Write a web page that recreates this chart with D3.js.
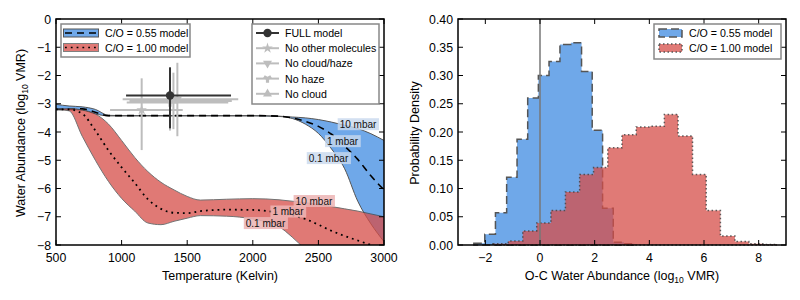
<!DOCTYPE html>
<html>
<head>
<meta charset="utf-8">
<script src="https://cdn.jsdelivr.net/npm/d3@7"></script>
<style>
  body { margin: 0; background: #fff; }
  svg { font-family: "Liberation Sans", Arial, sans-serif; }
</style>
</head>
<body>
<svg id="fig" width="800" height="300"></svg>
<script>
// ---- left panel: water abundance vs temperature ----
var tempK = [500, 600, 700, 800, 900, 1000, 1100, 1200, 1300, 1400, 1500, 1600, 1800, 2000, 2200, 2300, 2400, 2500, 2600, 2700, 2800, 2900, 3000];
var blue10  = [-3.02, -3.08, -3.11, -3.2, -3.41, -3.42, -3.42, -3.42, -3.42, -3.42, -3.42, -3.42, -3.42, -3.42, -3.44, -3.47, -3.5, -3.56, -3.65, -3.76, -3.88, -4.06, -4.3];
var blue1   = [-3.2, -3.2, -3.18, -3.3, -3.42, -3.42, -3.42, -3.42, -3.42, -3.42, -3.42, -3.42, -3.42, -3.42, -3.44, -3.5, -3.62, -3.8, -4.08, -4.5, -4.97, -5.55, -6.05];
var blue01  = [-3.2, -3.21, -3.23, -3.36, -3.43, -3.43, -3.43, -3.43, -3.43, -3.43, -3.43, -3.43, -3.43, -3.43, -3.45, -3.52, -3.72, -4.05, -4.6, -5.3, -6.45, -7.25, -7.88];
var red10   = [-3.2, -3.17, -3.22, -3.36, -3.72, -4.3, -4.9, -5.4, -5.78, -6.05, -6.28, -6.41, -6.38, -6.36, -6.4, -6.45, -6.5, -6.57, -6.64, -6.72, -6.8, -6.9, -7.0];
var red1    = [-3.2, -3.2, -3.35, -3.95, -4.65, -5.25, -5.8, -6.38, -6.72, -6.86, -6.87, -6.8, -6.75, -6.76, -6.86, -6.95, -7.08, -7.28, -7.5, -7.68, -7.84, -8.0, -8.15];
var red01   = [-3.2, -3.25, -4.15, -5.0, -5.75, -6.35, -6.8, -7.22, -7.28, -7.16, -7.05, -6.96, -6.98, -7.08, -7.35, -7.72, -8.15, -8.55, -8.9, -9.2, -9.5, -9.8, -10.1];

var pressLabels = ["10 mbar", "1 mbar", "0.1 mbar"];
var blueLabelT = [2802, 2684, 2577];
var blueLabelV = [-3.72, -4.32, -4.92];
var redLabelT  = [2466, 2268, 2097];
var redLabelV  = [-6.44, -6.81, -7.22];

// retrieved points: name, T, T low, T high, log VMR, low, high
var retNames = ["FULL model", "No other molecules", "No cloud/haze", "No haze", "No cloud"];
var retT     = [1369, 1153, 1425, 1369, 1395];
var retTlo   = [1034, 912, 1008, 1039, 1060];
var retThi   = [1834, 1466, 1889, 1813, 1840];
var retV     = [-2.71, -3.22, -2.84, -2.96, -2.9];
var retVlo   = [-3.87, -4.64, -4.15, -3.95, -3.9];
var retVhi   = [-1.71, -2.1, -1.55, -1.95, -1.9];

var xTicksL = [500, 1000, 1500, 2000, 2500, 3000];
var yTicksL = [0, -1, -2, -3, -4, -5, -6, -7, -8];

// ---- right panel: histograms ----
var blueEdges = [-2.42, -2.02, -1.63, -1.22, -0.84, -0.45, -0.06, 0.33, 0.73, 1.13, 1.52, 1.91, 2.29, 2.68, 3.07, 3.46];
var blueDens  = [0.003, 0.019, 0.057, 0.12, 0.187, 0.26, 0.30, 0.325, 0.355, 0.358, 0.307, 0.203, 0.065, 0.005, 0.002];
var redEdges  = [-1.72, -1.16, -0.63, -0.12, 0.40, 0.93, 1.45, 1.96, 2.48, 3.0, 3.52, 4.03, 4.55, 5.05, 5.58, 6.08, 6.6, 7.13, 7.64, 8.15, 8.67];
var redDens   = [0.002, 0.007, 0.025, 0.039, 0.061, 0.094, 0.125, 0.137, 0.172, 0.195, 0.209, 0.21, 0.231, 0.193, 0.125, 0.061, 0.016, 0.006, 0.002, 0.001];

var xTicksR = [-2, 0, 2, 4, 6, 8];
var yTicksR = [0, 0.05, 0.10, 0.15, 0.20, 0.25, 0.30, 0.35, 0.40];

var blueCol = "#6fa8e9";
var redCol = "rgb(214,77,72)";
var redAlpha = 0.75;

var svg = d3.select("#fig");

var xL = d3.scaleLinear().domain([500, 3000]).range([56, 384]);
var yL = d3.scaleLinear().domain([-8, 0]).range([245, 19]);
var xR = d3.scaleLinear().domain([-3, 9]).range([458, 786]);
var yR = d3.scaleLinear().domain([0, 0.4]).range([245, 19]);

svg.append("defs").append("clipPath").attr("id", "clipL")
    .append("rect").attr("x", 56).attr("y", 19).attr("width", 328).attr("height", 226);

var fmt = function (d) { return String(d).replace("-", "\u2212"); };

function drawFrame(x, y, xt, yt, xfmt, yfmt) {
    var g = svg.append("g");
    var x0 = x.range()[0], x1 = x.range()[1], y0 = y.range()[0], y1 = y.range()[1];
    // ticks inward on all sides
    xt.forEach(function (t) {
        g.append("line").attr("x1", x(t)).attr("x2", x(t)).attr("y1", y0).attr("y2", y0 - 5).attr("stroke", "#000");
        g.append("line").attr("x1", x(t)).attr("x2", x(t)).attr("y1", y1).attr("y2", y1 + 5).attr("stroke", "#000");
        g.append("text").attr("x", x(t)).attr("y", y0 + 17).attr("text-anchor", "middle")
            .attr("font-size", 12.3).text(xfmt(t));
    });
    yt.forEach(function (t) {
        g.append("line").attr("x1", x0).attr("x2", x0 + 5).attr("y1", y(t)).attr("y2", y(t)).attr("stroke", "#000");
        g.append("line").attr("x1", x1).attr("x2", x1 - 5).attr("y1", y(t)).attr("y2", y(t)).attr("stroke", "#000");
        g.append("text").attr("x", x0 - 5).attr("y", y(t) + 4.5).attr("text-anchor", "end")
            .attr("font-size", 12.3).text(yfmt(t));
    });
    g.append("rect").attr("x", x0).attr("y", y1).attr("width", x1 - x0).attr("height", y0 - y1)
        .attr("fill", "none").attr("stroke", "#000").attr("stroke-width", 1.5);
}

// ===== left panel =====
var rows = tempK.map(function (t, i) {
    return { t: t, b10: blue10[i], b1: blue1[i], b01: blue01[i], r10: red10[i], r1: red1[i], r01: red01[i] };
});
var plotL = svg.append("g").attr("clip-path", "url(#clipL)");

var bandB = d3.area().curve(d3.curveMonotoneX)
    .x(function (d) { return xL(d.t); })
    .y0(function (d) { return yL(d.b01); })
    .y1(function (d) { return yL(d.b10); });
var bandR = d3.area().curve(d3.curveMonotoneX)
    .x(function (d) { return xL(d.t); })
    .y0(function (d) { return yL(d.r01); })
    .y1(function (d) { return yL(d.r10); });
function lineOf(key) {
    return d3.line().curve(d3.curveMonotoneX)
        .x(function (d) { return xL(d.t); })
        .y(function (d) { return yL(d[key]); });
}

plotL.append("path").datum(rows).attr("d", bandB).attr("fill", blueCol);
plotL.append("path").datum(rows).attr("d", lineOf("b10")).attr("fill", "none").attr("stroke", "#555").attr("stroke-width", 1);
plotL.append("path").datum(rows).attr("d", lineOf("b01")).attr("fill", "none").attr("stroke", "#555").attr("stroke-width", 1);
plotL.append("path").datum(rows).attr("d", lineOf("b1")).attr("fill", "none").attr("stroke", "#000")
    .attr("stroke-width", 1.6).attr("stroke-dasharray", "7,5");

var redG = plotL.append("g").attr("opacity", redAlpha);
redG.append("path").datum(rows).attr("d", bandR).attr("fill", redCol);
redG.append("path").datum(rows).attr("d", lineOf("r10")).attr("fill", "none").attr("stroke", "#444").attr("stroke-width", 1);
redG.append("path").datum(rows).attr("d", lineOf("r01")).attr("fill", "none").attr("stroke", "#444").attr("stroke-width", 1);
plotL.append("path").datum(rows).attr("d", lineOf("r1")).attr("fill", "none").attr("stroke", "#000")
    .attr("stroke-width", 1.8).attr("stroke-dasharray", "1.8,4");

// pressure labels
function pLabel(t, v, txt, bg) {
    var g = plotL.append("g");
    var tx = g.append("text").attr("x", xL(t)).attr("y", yL(v) + 3.6).attr("text-anchor", "middle")
        .attr("font-size", 10).attr("fill", "#111").text(txt);
    var bb = tx.node().getBBox();
    g.insert("rect", "text").attr("x", bb.x - 2).attr("y", bb.y - 0.5).attr("width", bb.width + 4)
        .attr("height", bb.height + 1).attr("fill", bg);
}
pressLabels.forEach(function (s, i) { pLabel(blueLabelT[i], blueLabelV[i], s, "rgba(200,216,238,0.8)"); });
pressLabels.forEach(function (s, i) { pLabel(redLabelT[i], redLabelV[i], s, "rgba(236,180,180,0.85)"); });

// retrieval error bars
var markers = [d3.symbolCircle, d3.symbolStar, d3.symbolTriangle, d3.symbolWye, d3.symbolTriangle];
var mRot = [0, 0, 180, 0, 0];
function retColor(i) { return i === 0 ? "#333" : "#bdbdbd"; }
[1, 2, 3, 4, 0].forEach(function (i) {
    var c = retColor(i);
    svg.append("line").attr("x1", xL(retTlo[i])).attr("x2", xL(retThi[i]))
        .attr("y1", yL(retV[i])).attr("y2", yL(retV[i])).attr("stroke", c).attr("stroke-width", 2);
    svg.append("line").attr("x1", xL(retT[i])).attr("x2", xL(retT[i]))
        .attr("y1", yL(retVlo[i])).attr("y2", yL(retVhi[i])).attr("stroke", c).attr("stroke-width", 2);
    svg.append("path").attr("d", d3.symbol(markers[i], i === 0 ? 55 : 35)())
        .attr("transform", "translate(" + xL(retT[i]) + "," + yL(retV[i]) + ") rotate(" + mRot[i] + ")")
        .attr("fill", c);
});

drawFrame(xL, yL, xTicksL, yTicksL, fmt, fmt);

svg.append("text").attr("x", 220).attr("y", 280).attr("text-anchor", "middle").attr("font-size", 12.5)
    .text("Temperature (Kelvin)");
var yl = svg.append("text").attr("transform", "translate(25,133) rotate(-90)").attr("text-anchor", "middle")
    .attr("font-size", 12.5);
yl.append("tspan").text("Water Abundance (log");
yl.append("tspan").attr("font-size", 8.5).attr("dy", 3).text("10");
yl.append("tspan").attr("dy", -3).text(" VMR)");

// legend: models
var lg1 = svg.append("g");
lg1.append("rect").attr("x", 61).attr("y", 24).attr("width", 129).attr("height", 33)
    .attr("fill", "#fff").attr("stroke", "#888").attr("stroke-width", 1.5);
var lgModels = ["C/O = 0.55 model", "C/O = 1.00 model"];
lgModels.forEach(function (s, i) {
    var yy = 33 + i * 14.5;
    lg1.append("rect").attr("x", 63.5).attr("y", yy - 4).attr("width", 35).attr("height", 8)
        .attr("fill", i === 0 ? blueCol : redCol).attr("opacity", i === 0 ? 1 : redAlpha)
        .attr("stroke", "#555").attr("stroke-width", 1);
    lg1.append("line").attr("x1", 65).attr("x2", 97).attr("y1", yy).attr("y2", yy)
        .attr("stroke", "#000").attr("stroke-width", 1.6)
        .attr("stroke-dasharray", i === 0 ? "7,5" : "1.8,4");
    lg1.append("text").attr("x", 105).attr("y", yy + 4).attr("font-size", 10.6).text(s);
});

// legend: retrievals
var lg2 = svg.append("g");
lg2.append("rect").attr("x", 252).attr("y", 24).attr("width", 127).attr("height", 80)
    .attr("fill", "#fff").attr("stroke", "#888").attr("stroke-width", 1.5);
retNames.forEach(function (s, i) {
    var yy = 33 + i * 15.2;
    var c = retColor(i);
    lg2.append("line").attr("x1", 256).attr("x2", 279).attr("y1", yy).attr("y2", yy)
        .attr("stroke", c).attr("stroke-width", 2);
    lg2.append("path").attr("d", d3.symbol(markers[i], i === 0 ? 55 : 35)())
        .attr("transform", "translate(267.5," + yy + ") rotate(" + mRot[i] + ")").attr("fill", c);
    lg2.append("text").attr("x", 285).attr("y", yy + 4).attr("font-size", 10.6).text(s);
});

// ===== right panel =====
function histPts(edges, dens) {
    return edges.map(function (e, i) { return { x: e, v: i < dens.length ? dens[i] : 0 }; });
}
var histArea = d3.area().curve(d3.curveStepAfter)
    .x(function (d) { return xR(d.x); })
    .y0(yR(0))
    .y1(function (d) { return yR(d.v); });

svg.append("path").datum(histPts(blueEdges, blueDens)).attr("d", histArea)
    .attr("fill", blueCol).attr("stroke", "#555").attr("stroke-width", 1.5).attr("stroke-dasharray", "8,4");
svg.append("path").datum(histPts(redEdges, redDens)).attr("d", histArea)
    .attr("fill", redCol).attr("fill-opacity", redAlpha)
    .attr("stroke", "#444").attr("stroke-width", 1.5).attr("stroke-dasharray", "1.5,2.5").attr("stroke-opacity", 0.85);

svg.append("line").attr("x1", xR(0)).attr("x2", xR(0)).attr("y1", yR(0)).attr("y2", yR(0.4))
    .attr("stroke", "#777").attr("stroke-width", 1.5);

drawFrame(xR, yR, xTicksR, yTicksR, fmt, function (d) { return d.toFixed(2); });

var xlR = svg.append("text").attr("x", 622).attr("y", 280).attr("text-anchor", "middle").attr("font-size", 12.5);
xlR.append("tspan").text("O-C Water Abundance (log");
xlR.append("tspan").attr("font-size", 8.5).attr("dy", 3).text("10");
xlR.append("tspan").attr("dy", -3).text(" VMR)");
svg.append("text").attr("transform", "translate(419,133) rotate(-90)").attr("text-anchor", "middle")
    .attr("font-size", 12.5).text("Probability Density");

var lg3 = svg.append("g");
lg3.append("rect").attr("x", 654).attr("y", 24).attr("width", 127).attr("height", 35)
    .attr("fill", "#fff").attr("stroke", "#888").attr("stroke-width", 1.5);
lgModels.forEach(function (s, i) {
    var yy = 33 + i * 15;
    lg3.append("rect").attr("x", 659).attr("y", yy - 4).attr("width", 23).attr("height", 8)
        .attr("fill", i === 0 ? blueCol : redCol).attr("fill-opacity", i === 0 ? 1 : redAlpha)
        .attr("stroke", "#555").attr("stroke-width", 1.5)
        .attr("stroke-dasharray", i === 0 ? "8,4" : "1.5,2.5");
    lg3.append("text").attr("x", 689).attr("y", yy + 4).attr("font-size", 10.6).text(s);
});
</script>
</body>
</html>
